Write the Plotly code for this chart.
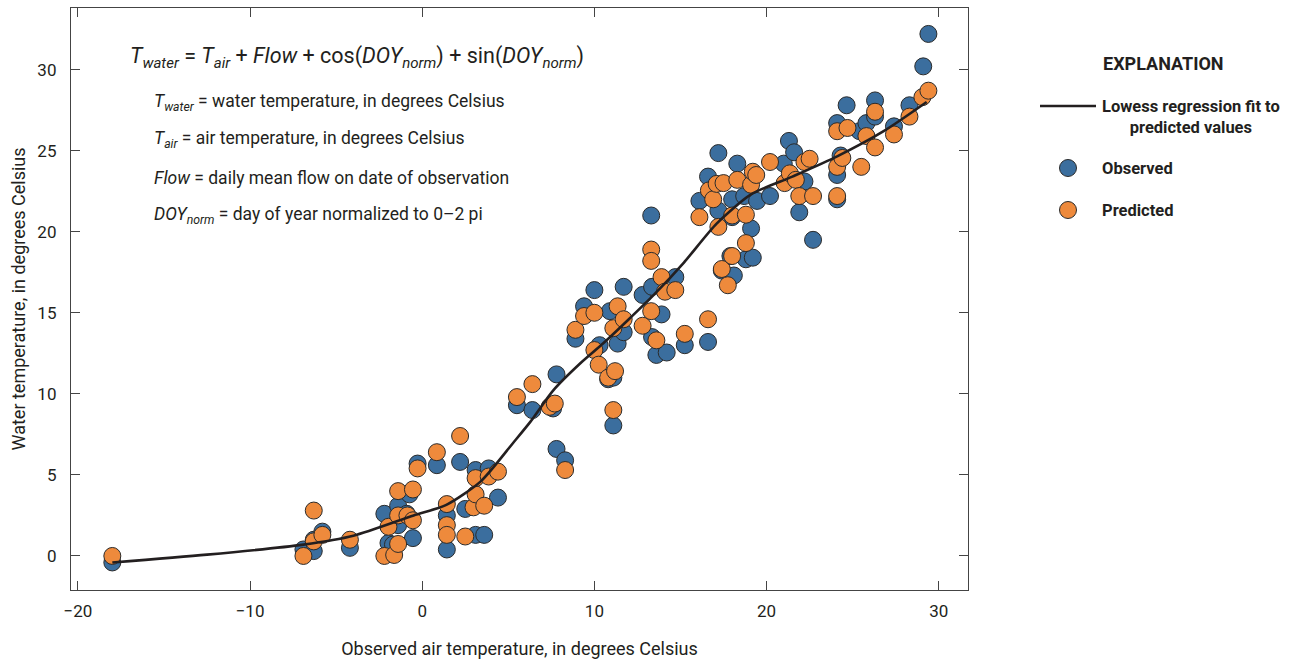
import plotly.graph_objects as go

# ---- data ----
obs_air = [-18.0, -6.9, -6.3, -6.3, -5.8, -4.2, -2.2, -1.96, -1.7, -1.4, -1.4, -0.9, -0.74, -0.54,
           -0.27, 0.85, 1.43, 1.43, 2.2, 2.5, 3.1, 3.1, 3.6, 3.86, 4.4, 5.5, 6.4, 7.6, 7.8, 7.8,
           8.3, 8.9, 9.4, 10.0, 10.3, 10.8, 11.1, 10.9, 11.1, 11.35, 11.7, 11.7, 12.8, 13.3, 13.35,
           13.35, 13.6, 13.9, 14.2, 14.7, 15.25, 16.1, 16.6, 16.6, 17.2, 17.2, 17.4, 17.9, 18.0,
           18.0, 18.1, 18.3, 18.7, 18.8, 19.1, 19.2, 19.45, 20.2, 21.0, 21.3, 21.6, 21.9, 22.2,
           22.7, 24.3, 24.1, 24.1, 24.1, 24.65, 25.4, 25.8, 26.3, 26.3, 27.4, 28.3, 29.1, 29.4]
obs_water = [-0.4, 0.4, 0.3, 1.0, 1.5, 0.5, 2.6, 0.8, 0.7, 3.1, 1.9, 2.6, 3.8, 1.1,
             5.7, 5.6, 2.5, 0.4, 5.8, 2.9, 5.3, 1.3, 1.3, 5.4, 3.6, 9.3, 9.0, 9.1, 11.2, 6.6,
             5.9, 13.4, 15.4, 16.4, 13.0, 10.9, 11.0, 15.1, 8.05, 13.1, 16.6, 13.8, 16.1, 21.0, 16.6,
             13.5, 12.4, 14.9, 12.55, 17.2, 13.0, 21.9, 23.4, 13.2, 24.85, 21.3, 17.6, 18.5, 22.0,
             20.9, 17.3, 24.2, 22.2, 18.3, 20.2, 18.4, 21.9, 22.2, 24.2, 25.6, 24.9, 21.2, 23.1,
             19.5, 24.7, 26.7, 23.5, 22.0, 27.8, 26.2, 26.7, 28.1, 27.1, 26.5, 27.8, 30.2, 32.2]

pred_air = [-18.0, -6.9, -6.3, -6.3, -5.8, -4.2, -2.2, -1.96, -1.63, -1.4, -1.4, -1.4, -0.86, -0.54,
            -0.54, -0.27, 0.85, 1.43, 1.43, 1.43, 2.2, 2.5, 2.98, 3.1, 3.1, 3.6, 3.86, 4.4, 5.5,
            6.4, 7.4, 7.7, 8.3, 8.9, 9.4, 10.0, 10.0, 10.25, 10.8, 11.2, 11.1, 11.1, 11.35, 11.7,
            12.8, 13.3, 13.3, 13.3, 13.6, 13.9, 14.1, 14.7, 15.25, 16.1, 16.6, 16.65, 16.9, 17.1,
            17.2, 17.4, 17.5, 17.75, 18.0, 18.0, 18.3, 18.8, 18.8, 19.1, 19.2, 19.4, 20.2, 21.05,
            21.35, 21.7, 21.9, 22.2, 22.5, 22.7, 24.1, 24.1, 24.1, 24.4, 24.7, 25.5, 25.8, 26.3,
            26.3, 27.4, 28.3, 29.05, 29.4]
pred_water = [0.0, 0.0, 2.8, 0.9, 1.3, 1.0, 0.0, 1.8, 0.06, 4.0, 2.5, 0.74, 2.5, 4.1,
              2.2, 5.4, 6.4, 3.2, 1.9, 1.3, 7.4, 1.2, 3.0, 3.8, 4.8, 3.1, 4.9, 5.2, 9.8,
              10.6, 9.2, 9.4, 5.3, 13.95, 14.8, 15.0, 12.7, 11.8, 11.0, 11.4, 9.0, 14.05, 15.4, 14.6,
              14.2, 18.9, 18.2, 15.1, 13.3, 17.2, 16.3, 16.4, 13.7, 20.9, 14.6, 22.55, 22.0, 22.95,
              20.3, 17.7, 23.0, 16.7, 21.0, 18.5, 23.2, 21.05, 19.3, 22.9, 23.7, 23.5, 24.3, 23.0,
              23.6, 23.2, 22.2, 24.3, 24.5, 22.2, 26.2, 24.0, 22.2, 24.55, 26.4, 24.0, 25.9, 27.4,
              25.2, 26.0, 27.1, 28.3, 28.7]

lowess_air = [-18.0, -12.5, -6.9, -4.0, -0.5, 1.4, 3.4, 5.3, 6.3, 7.6, 9.2, 10.5, 12.0, 13.45,
              15.2, 17.1, 19.1, 21.5, 24.1, 26.8, 29.3]
lowess_water = [-0.4, 0.08, 0.7, 1.25, 2.5, 3.15, 4.6, 7.0, 8.3, 10.2, 11.9, 13.1, 14.6, 16.1,
                18.1, 20.5, 22.3, 23.4, 24.65, 26.2, 28.0]

x_ticks = [-20, -10, 0, 10, 20, 30]
y_ticks = [0, 5, 10, 15, 20, 25, 30]

# ---- styles ----
BLUE = "#3B6E9E"
ORANGE = "#EE8A3C"
EDGE = "#2b2b2b"
TXT = "#231f20"
FONT = "Roboto, Liberation Sans, Arial, sans-serif"

fig = go.Figure()
marker_common = dict(size=17, line=dict(color=EDGE, width=1))
fig.add_trace(go.Scatter(x=obs_air, y=obs_water, mode="markers", name="Observed",
                         marker=dict(color=BLUE, **marker_common), showlegend=False))
fig.add_trace(go.Scatter(x=pred_air, y=pred_water, mode="markers", name="Predicted",
                         marker=dict(color=ORANGE, **marker_common), showlegend=False))
fig.add_trace(go.Scatter(x=lowess_air, y=lowess_water, mode="lines", name="Lowess",
                         line=dict(color="#231f20", width=2.6, shape="spline", smoothing=0.7),
                         showlegend=False))

axis_common = dict(showline=True, linecolor="#444", linewidth=1.3, mirror="ticks",
                   ticks="inside", ticklen=9, tickwidth=1.1, tickcolor="#444",
                   showgrid=False, zeroline=False,
                   tickfont=dict(family=FONT, size=17, color=TXT))
fig.update_xaxes(range=[-20.4, 31.7], tickvals=x_ticks, ticklabelstandoff=5,
                 title=dict(text="Observed air temperature, in degrees Celsius",
                            font=dict(family=FONT, size=18, color=TXT), standoff=22),
                 **axis_common)
fig.update_yaxes(range=[-2.1, 33.8], tickvals=y_ticks, ticklabelstandoff=10,
                 title=dict(text="Water temperature, in degrees Celsius",
                            font=dict(family=FONT, size=18, color=TXT), standoff=7),
                 **axis_common)

W, H = 1290, 661
L, R, T, B = 71, 322, 8, 71
pw, ph = W - L - R, H - T - B


def px(xp):
    return (xp - L) / pw


def py(yp):
    return 1 - (yp - T) / ph


ann = []
ann.append(dict(x=px(128), y=py(57), xref="paper", yref="paper", xanchor="left", yanchor="middle",
                showarrow=False, font=dict(family=FONT, size=21.5, color=TXT),
                text="<i>T<sub>water</sub></i> = <i>T<sub>air</sub></i> + <i>Flow</i> + cos(<i>DOY<sub>norm</sub></i>) + sin(<i>DOY<sub>norm</sub></i>)"))
desc = [
    (103, "<i>T<sub>water</sub></i> = water temperature, in degrees Celsius"),
    (140, "<i>T<sub>air</sub></i> = air temperature, in degrees Celsius"),
    (178, "<i>Flow</i> = daily mean flow on date of observation"),
    (215, "<i>DOY<sub>norm</sub></i> = day of year normalized to 0\u20132 pi"),
]
for yy, t in desc:
    ann.append(dict(x=px(152), y=py(yy), xref="paper", yref="paper", xanchor="left", yanchor="middle",
                    showarrow=False, font=dict(family=FONT, size=17.5, color=TXT), text=t))

# legend (explanation)
ann.append(dict(x=px(1163), y=py(63), xref="paper", yref="paper", xanchor="center", yanchor="middle",
                showarrow=False, font=dict(family=FONT, size=18, color=TXT), text="<b>EXPLANATION</b>"))
ann.append(dict(x=px(1100), y=py(117), xref="paper", yref="paper", xanchor="left", yanchor="middle",
                showarrow=False, align="center", font=dict(family=FONT, size=16.5, color=TXT),
                text="<b>Lowess regression fit to</b><br><b>predicted values</b>"))
ann.append(dict(x=px(1100), y=py(168), xref="paper", yref="paper", xanchor="left", yanchor="middle",
                showarrow=False, font=dict(family=FONT, size=16.5, color=TXT), text="<b>Observed</b>"))
ann.append(dict(x=px(1100), y=py(210), xref="paper", yref="paper", xanchor="left", yanchor="middle",
                showarrow=False, font=dict(family=FONT, size=16.5, color=TXT), text="<b>Predicted</b>"))

shapes = [
    dict(type="line", xref="paper", yref="paper", x0=px(1040), x1=px(1096), y0=py(106), y1=py(106),
         line=dict(color="#231f20", width=2.6)),
]
for yy, col in [(168, BLUE), (210, ORANGE)]:
    shapes.append(dict(type="circle", xref="paper", yref="paper", xsizemode="pixel", ysizemode="pixel",
                       xanchor=px(1068), yanchor=py(yy), x0=-8.5, x1=8.5, y0=-8.5, y1=8.5,
                       fillcolor=col, line=dict(color=EDGE, width=1)))

fig.update_layout(width=W, height=H, margin=dict(l=L, r=R, t=T, b=B, autoexpand=False),
                  paper_bgcolor="white", plot_bgcolor="white", showlegend=False,
                  annotations=ann, shapes=shapes)

fig.write_html("out.html", config={"displayModeBar": False},
               post_script="document.body.style.margin='0';document.body.style.overflow='hidden';")
